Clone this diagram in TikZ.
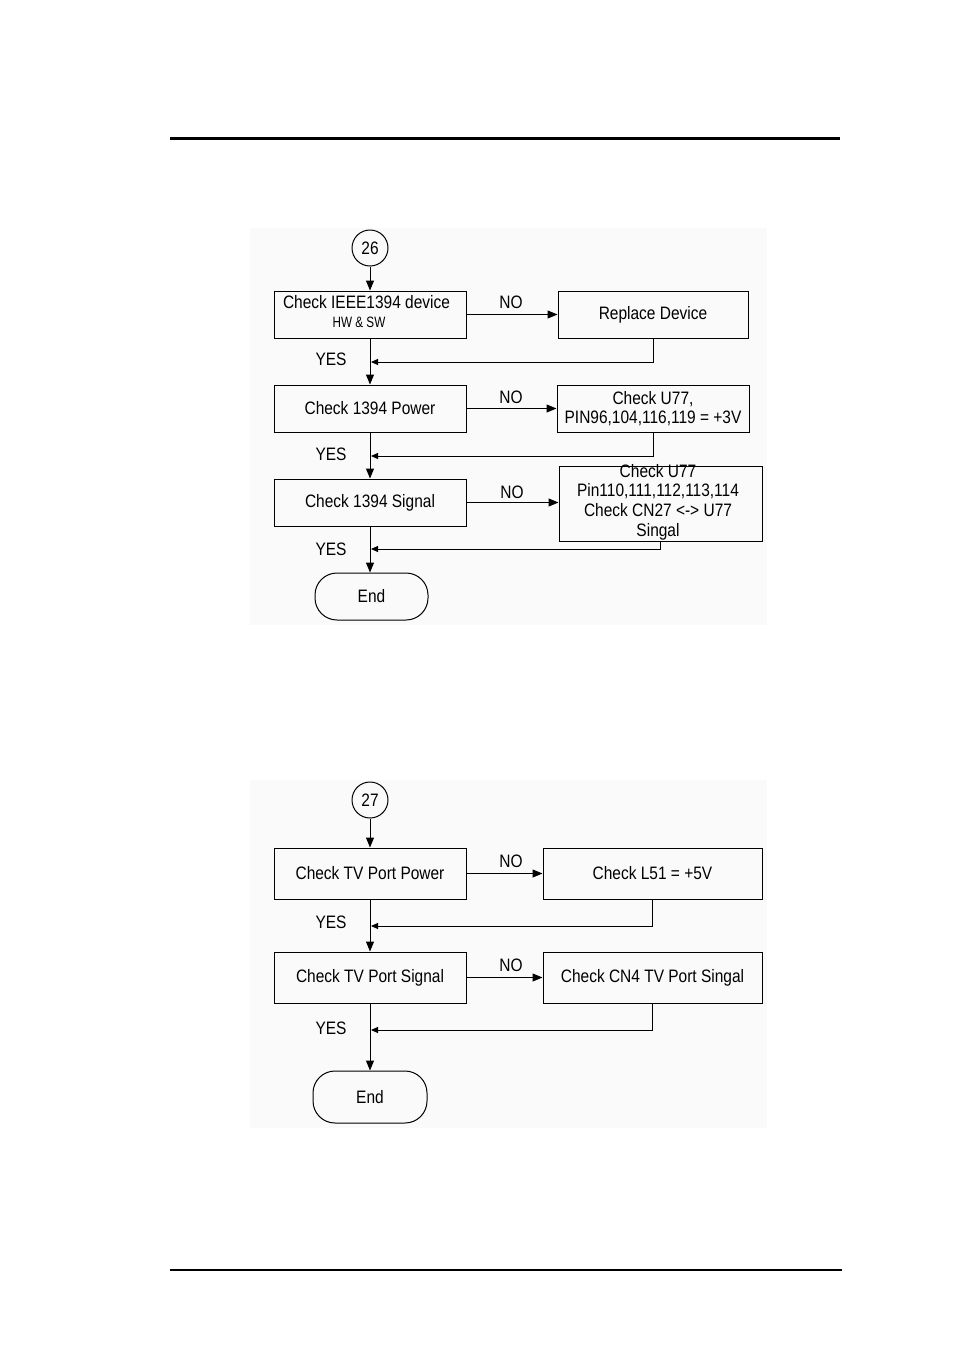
\documentclass[tikz,border=0pt]{standalone}
\usepackage{fontspec}
\setmainfont{Liberation Sans}[FakeStretch=0.86]
\newfontfamily\smallfnt{Liberation Sans}[FakeStretch=0.78]
\usetikzlibrary{arrows.meta}
\begin{document}
\begin{tikzpicture}[x=1pt,y=-1pt,
  box/.style={draw,line width=1pt,minimum width=192pt,minimum height=47pt,inner sep=0pt,font=\fontsize{18}{20}\selectfont,align=center},
  conn/.style={draw,line width=1pt,minimum size=36pt,circle,inner sep=0pt,font=\fontsize{18}{20}\selectfont},
  term/.style={draw,line width=1pt,minimum width=113pt,minimum height=47pt,rounded corners=22pt,inner sep=0pt,font=\fontsize{18}{20}\selectfont},
  lbl/.style={font=\fontsize{18}{20}\selectfont,inner sep=0pt},
  arr/.style={line width=1pt,-{Triangle[length=10pt,width=8pt]}},
  rarr/.style={line width=1pt,-{Triangle[length=7pt,width=6pt]}}]
\useasboundingbox (0,0) rectangle (954,1350);
\fill[white] (0,0) rectangle (954,1350);
% page rules
\draw[line width=3pt] (170,138) -- (840,138);
\draw[line width=1.5pt] (170,1270) -- (842,1270);
% backgrounds
\fill[black!2] (250,228) rectangle (767,625);
\fill[black!2] (250,780) rectangle (767,1128);

% ===== Diagram 26 =====
\node[conn] (c26) at (370,248) {26};
\node[box] (a1) at (370,314.5) {};
\node[lbl] at (366.5,302) {Check IEEE1394 device};
\node[lbl,font=\smallfnt\fontsize{15}{18}\selectfont] at (359,322) {HW \& SW};
\node[box,minimum width=190pt] (b1) at (653,314.5) {Replace Device};
\node[box] (a2) at (370,408.5) {Check 1394 Power};
\node[box,minimum width=192pt,align=center] (b2) at (653,408.5) {Check U77,\\[-1pt]PIN96,104,116,119 = +3V};
\node[box] (a3) at (370,502.5) {Check 1394 Signal};
\node[box,minimum width=203pt,minimum height=75pt] (b3) at (660.5,503.5) {};
\node[lbl,align=center,font=\fontsize{18}{19.7}\selectfont] at (658,502) {Check U77\\Pin110,111,112,113,114\\Check CN27 <-> U77\\Singal};
\node[term] (e1) at (371.5,596.5) {End};

\coordinate (j1) at (371,362);
\coordinate (j2) at (371,456);
\coordinate (j3) at (371,549);

\draw[arr] (c26) -- (a1);
\draw[arr] (a1) -- (b1);
\node[lbl] at (511,302) {NO};
\draw[rarr] (b1.south) |- (j1);
\draw[arr] (a1) -- (a2);
\node[lbl] at (331,359) {YES};

\draw[arr] (a2) -- (b2);
\node[lbl] at (511,397) {NO};
\draw[rarr] (b2.south) |- (j2);
\draw[arr] (a2) -- (a3);
\node[lbl] at (331,454) {YES};

\draw[arr] (a3.east) -- (a3.east -| b3.west);
\node[lbl] at (512,492) {NO};
\draw[rarr] (b3.south) |- (j3);
\draw[arr] (a3.south) -- (e1.north -| a3.south);
\node[lbl] at (331,549) {YES};

% ===== Diagram 27 =====
\node[conn] (c27) at (370,800) {27};
\node[box,minimum height=51pt] (p1) at (370,873.5) {Check TV Port Power};
\node[box,minimum width=219pt,minimum height=51pt] (q1) at (652.5,873.5) {Check L51 = +5V};
\node[box,minimum height=51pt] (p2) at (370,977.5) {Check TV Port Signal};
\node[box,minimum width=219pt,minimum height=51pt] (q2) at (652.5,977.5) {Check CN4 TV Port Singal};
\node[term,minimum width=114pt,minimum height=52pt] (e2) at (370,1097) {End};

\coordinate (k1) at (371,926);
\coordinate (k2) at (371,1030);

\draw[arr] (c27) -- (p1);
\draw[arr] (p1) -- (q1);
\node[lbl] at (511,861) {NO};
\draw[rarr] (q1.south) |- (k1);
\draw[arr] (p1) -- (p2);
\node[lbl] at (331,922) {YES};

\draw[arr] (p2) -- (q2);
\node[lbl] at (511,965) {NO};
\draw[rarr] (q2.south) |- (k2);
\draw[arr] (p2.south) -- (e2.north -| p2.south);
\node[lbl] at (331,1028) {YES};
\end{tikzpicture}
\end{document}
